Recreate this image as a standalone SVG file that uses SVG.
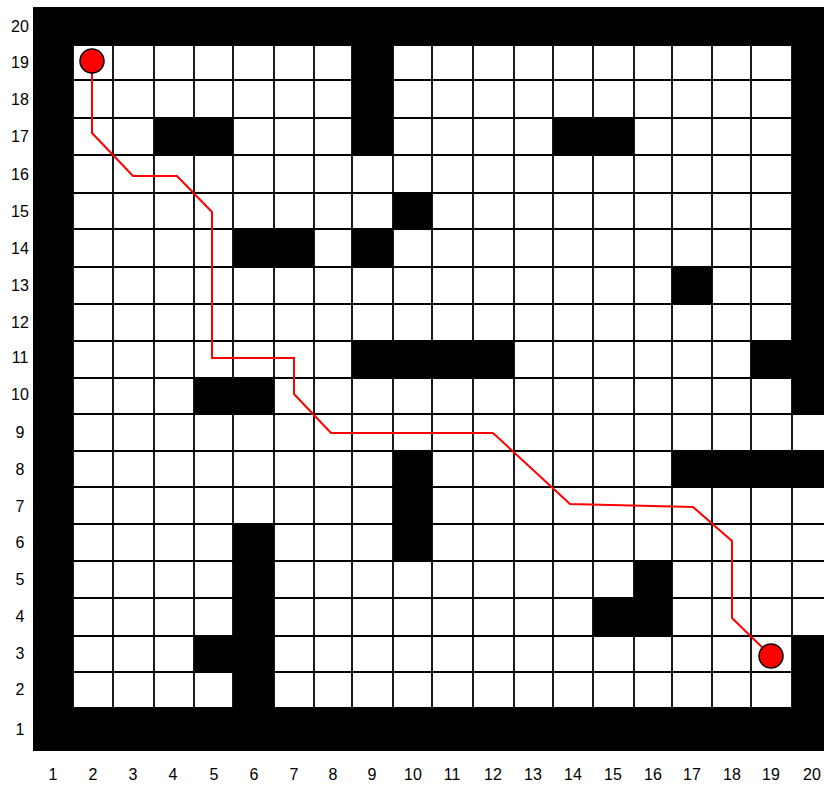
<svg xmlns="http://www.w3.org/2000/svg" width="824" height="787" viewBox="0 0 824 787">
<style>
.g line{stroke:#000;stroke-width:1.8}
.ob rect{fill:#000}
.lbl{font-family:"Liberation Sans",Arial,sans-serif;font-size:16px;fill:#000;text-anchor:middle}
.path{fill:none;stroke:#ff0000;stroke-width:2;stroke-linejoin:miter}
.pt{fill:#ff0000;stroke:#000;stroke-width:1.5}
</style>
<rect width="824" height="787" fill="#fff"/>
<g id="grid" class="g">
<line x1="73" y1="45" x2="73" y2="708"/><line x1="113" y1="45" x2="113" y2="708"/><line x1="154" y1="45" x2="154" y2="708"/><line x1="194" y1="45" x2="194" y2="708"/><line x1="233" y1="45" x2="233" y2="708"/><line x1="274" y1="45" x2="274" y2="708"/><line x1="314" y1="45" x2="314" y2="708"/><line x1="352" y1="45" x2="352" y2="708"/><line x1="393" y1="45" x2="393" y2="708"/><line x1="432" y1="45" x2="432" y2="708"/><line x1="473" y1="45" x2="473" y2="708"/><line x1="514" y1="45" x2="514" y2="708"/><line x1="553" y1="45" x2="553" y2="708"/><line x1="593" y1="45" x2="593" y2="708"/><line x1="634" y1="45" x2="634" y2="708"/><line x1="672" y1="45" x2="672" y2="708"/><line x1="712" y1="45" x2="712" y2="708"/><line x1="751" y1="45" x2="751" y2="708"/><line x1="792" y1="45" x2="792" y2="708"/>
<line x1="73" y1="45" x2="824" y2="45"/><line x1="73" y1="80" x2="824" y2="80"/><line x1="73" y1="118" x2="824" y2="118"/><line x1="73" y1="155" x2="824" y2="155"/><line x1="73" y1="193" x2="824" y2="193"/><line x1="73" y1="229" x2="824" y2="229"/><line x1="73" y1="267" x2="824" y2="267"/><line x1="73" y1="304" x2="824" y2="304"/><line x1="73" y1="341" x2="824" y2="341"/><line x1="73" y1="378" x2="824" y2="378"/><line x1="73" y1="414" x2="824" y2="414"/><line x1="73" y1="451" x2="824" y2="451"/><line x1="73" y1="487" x2="824" y2="487"/><line x1="73" y1="524" x2="824" y2="524"/><line x1="73" y1="561" x2="824" y2="561"/><line x1="73" y1="598" x2="824" y2="598"/><line x1="73" y1="636" x2="824" y2="636"/><line x1="73" y1="672" x2="824" y2="672"/><line x1="73" y1="708" x2="824" y2="708"/>
</g>
<g id="obstacles" class="ob">
<rect x="33" y="7" width="40" height="744"/>
<rect x="33" y="7" width="799" height="38"/>
<rect x="33" y="708" width="799" height="43"/>
<rect x="792" y="7" width="40" height="407"/>
<rect x="751" y="341" width="41" height="37"/>
<rect x="672" y="451" width="160" height="36"/>
<rect x="792" y="636" width="40" height="72"/>
<rect x="352" y="45" width="41" height="110"/>
<rect x="154" y="118" width="79" height="37"/>
<rect x="553" y="118" width="81" height="37"/>
<rect x="393" y="193" width="39" height="36"/>
<rect x="352" y="229" width="41" height="38"/>
<rect x="233" y="229" width="81" height="38"/>
<rect x="672" y="267" width="40" height="37"/>
<rect x="352" y="341" width="162" height="37"/>
<rect x="194" y="378" width="80" height="36"/>
<rect x="393" y="451" width="39" height="110"/>
<rect x="233" y="524" width="41" height="184"/>
<rect x="194" y="636" width="39" height="36"/>
<rect x="634" y="561" width="38" height="75"/>
<rect x="593" y="598" width="41" height="38"/>
</g>
<g id="connectors">
<polyline class="path" points="92,61 92,133 133,176 177,176 212,212 212,358 294,358 294,394 331,433 493,433 570,504 693,507 732,541 732,618 771,656"/>
</g>
<g id="start"><circle class="pt" cx="92" cy="61" r="12"/></g>
<g id="goal"><circle class="pt" cx="771" cy="656" r="12"/></g>
<g id="y-axis" class="lbl">
<text x="20" y="32">20</text><text x="20" y="68">19</text><text x="20" y="105">18</text><text x="20" y="142">17</text><text x="20" y="180">16</text><text x="20" y="217">15</text><text x="20" y="254">14</text><text x="20" y="291">13</text><text x="20" y="328">12</text><text x="20" y="363">11</text><text x="20" y="400">10</text><text x="20" y="438">9</text><text x="20" y="475">8</text><text x="20" y="512">7</text><text x="20" y="548">6</text><text x="20" y="585">5</text><text x="20" y="622">4</text><text x="20" y="659">3</text><text x="20" y="695">2</text><text x="20" y="735">1</text>
</g>
<g id="x-axis" class="lbl">
<text x="53" y="780">1</text><text x="93" y="780">2</text><text x="133" y="780">3</text><text x="173" y="780">4</text><text x="214" y="780">5</text><text x="254" y="780">6</text><text x="294" y="780">7</text><text x="333" y="780">8</text><text x="372" y="780">9</text><text x="413" y="780">10</text><text x="452" y="780">11</text><text x="493" y="780">12</text><text x="533" y="780">13</text><text x="573" y="780">14</text><text x="613" y="780">15</text><text x="653" y="780">16</text><text x="692" y="780">17</text><text x="732" y="780">18</text><text x="771" y="780">19</text><text x="812" y="780">20</text>
</g>
</svg>
